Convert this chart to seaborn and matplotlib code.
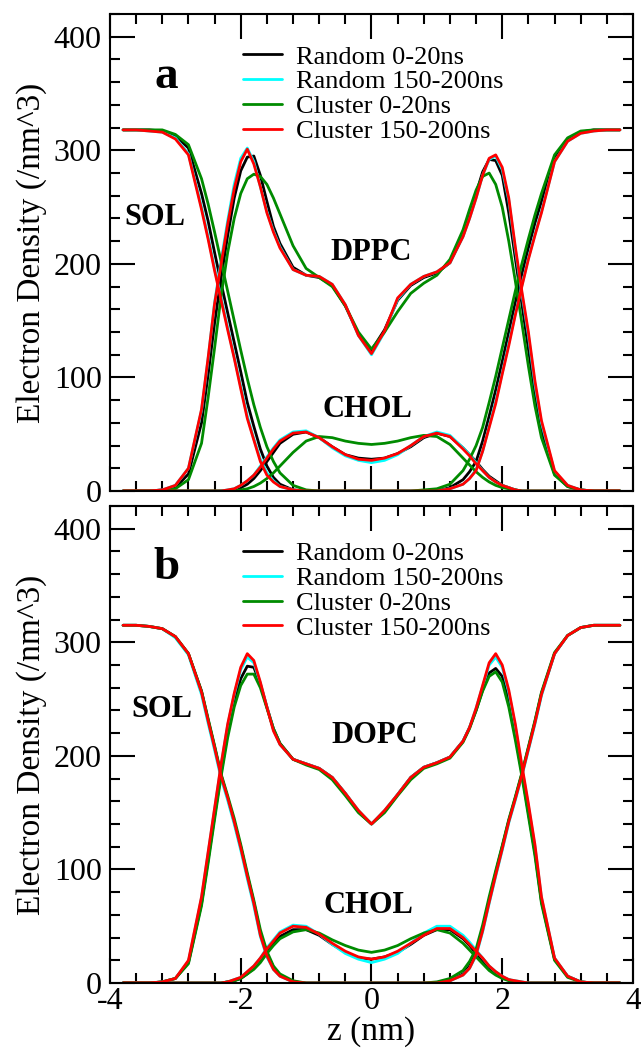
import numpy as np
import pandas as pd
import matplotlib
matplotlib.use("Agg")
import matplotlib.pyplot as plt
import seaborn as sns
from matplotlib.lines import Line2D
from matplotlib.ticker import MultipleLocator

# z grid (nm), finer where the profiles are steep
z = [-3.8, -3.6, -3.4, -3.2, -3.0, -2.8, -2.6, -2.5, -2.4, -2.3, -2.2, -2.1, -2.0,
     -1.9, -1.8, -1.7, -1.6, -1.5, -1.4, -1.2, -1.0, -0.8, -0.6, -0.4, -0.2, 0.0,
     0.2, 0.4, 0.6, 0.8, 1.0, 1.2, 1.4, 1.5, 1.6, 1.7, 1.8, 1.9, 2.0,
     2.1, 2.2, 2.3, 2.4, 2.5, 2.6, 2.8, 3.0, 3.2, 3.4, 3.6, 3.8]

runs = ['Random 0-20ns', 'Random 150-200ns', 'Cluster 0-20ns', 'Cluster 150-200ns']
run_colors = ['#000000', '#00ffff', '#008b00', '#ff0000']

# ---- panel a (DPPC) ----
a_sol_black = [318, 318, 318, 317, 313, 302, 262, 238, 210, 183, 157, 131, 105, 78, 57, 37, 22, 12, 6, 1, 0, 0, 0, 0, 0, 0,
               0, 0, 0, 0, 0, 3, 10, 17, 26, 44, 66, 89, 114, 140, 166, 191, 214, 236, 255, 294, 310, 316, 318, 318, 318]
a_sol_cyan = [318, 318, 317, 316, 311, 297, 250, 224, 196, 170, 144, 118, 92, 66, 46, 28, 16, 9, 4, 1, 0, 0, 0, 0, 0, 0,
              0, 0, 0, 0, 0, 2, 6, 11, 19, 35, 57, 79, 104, 130, 156, 181, 205, 226, 246, 290, 308, 315, 317, 318, 318]
a_sol_green = [318, 318, 318, 318, 314, 305, 275, 253, 228, 202, 176, 150, 124, 99, 76, 56, 39, 26, 16, 5, 1, 0, 0, 0, 0, 0,
               0, 0, 0, 1, 2, 6, 18, 28, 40, 56, 78, 101, 126, 151, 176, 200, 222, 243, 262, 296, 311, 317, 318, 318, 318]
a_sol_red = [318, 318, 317, 316, 310, 296, 248, 222, 194, 168, 142, 117, 90, 64, 45, 26, 14, 8, 4, 1, 0, 0, 0, 0, 0, 0,
             0, 0, 0, 0, 0, 2, 6, 11, 18, 35, 56, 77, 103, 128, 155, 180, 204, 225, 245, 290, 308, 315, 317, 318, 318]

a_lip_black = [0, 0, 0, 1, 3, 15, 60, 102, 148, 188, 225, 258, 282, 294, 295, 278, 255, 233, 218, 197, 190, 188, 181, 163, 138, 124,
               142, 168, 181, 188, 192, 201, 225, 242, 262, 281, 292, 291, 278, 245, 205, 165, 125, 86, 54, 15, 4, 1, 0, 0, 0]
a_lip_cyan = [0, 0, 0, 1, 5, 20, 71, 116, 166, 203, 238, 270, 293, 302, 290, 268, 246, 229, 215, 195, 190, 189, 182, 164, 137, 120,
              140, 169, 182, 189, 193, 201, 224, 240, 258, 278, 292, 295, 283, 256, 213, 174, 137, 94, 60, 17, 5, 1, 0, 0, 0]
a_lip_green = [0, 0, 0, 0, 2, 10, 42, 82, 126, 172, 210, 240, 262, 275, 279, 277, 270, 258, 244, 216, 196, 188, 180, 163, 140, 125,
               140, 158, 174, 183, 190, 204, 230, 248, 265, 277, 280, 270, 250, 220, 185, 148, 110, 75, 47, 14, 4, 1, 0, 0, 0]
a_lip_red = [0, 0, 0, 1, 5, 20, 72, 117, 165, 200, 235, 266, 290, 301, 288, 268, 245, 228, 214, 195, 190, 189, 182, 164, 137, 121,
             141, 170, 182, 189, 193, 201, 224, 240, 258, 278, 293, 296, 285, 258, 215, 176, 140, 97, 62, 18, 5, 1, 0, 0, 0]

a_chol_black = [0, 0, 0, 0, 0, 0, 0, 0, 0, 0, 0, 1, 3, 6, 11, 18, 26, 34, 42, 50, 52, 47, 39, 32, 29, 28,
                29, 33, 39, 47, 51, 48, 38, 32, 26, 19, 13, 9, 5, 3, 1, 0, 0, 0, 0, 0, 0, 0, 0, 0, 0]
a_chol_cyan = [0, 0, 0, 0, 0, 0, 0, 0, 0, 0, 1, 2, 5, 9, 14, 22, 30, 38, 45, 52, 53, 47, 38, 31, 27, 25,
               27, 32, 40, 48, 52, 49, 38, 32, 25, 18, 12, 8, 5, 3, 1, 0, 0, 0, 0, 0, 0, 0, 0, 0, 0]
a_chol_green = [0, 0, 0, 0, 0, 0, 0, 0, 0, 0, 0, 0, 1, 2, 4, 7, 11, 16, 22, 34, 44, 48, 47, 44, 42, 41,
                42, 44, 47, 49, 48, 41, 29, 23, 17, 12, 8, 5, 3, 2, 1, 0, 0, 0, 0, 0, 0, 0, 0, 0, 0]
a_chol_red = [0, 0, 0, 0, 0, 0, 0, 0, 0, 0, 1, 2, 5, 9, 14, 21, 29, 37, 44, 51, 52, 47, 39, 32, 28, 27,
              29, 33, 40, 48, 51, 48, 37, 31, 24, 18, 12, 8, 5, 3, 1, 0, 0, 0, 0, 0, 0, 0, 0, 0, 0]

# ---- panel b (DOPC) ----
b_sol_black = [315, 315, 314, 312, 305, 290, 257, 232, 208, 183, 163, 142, 120, 95, 71, 44, 26, 14, 7, 1, 0, 0, 0, 0, 0, 0,
               0, 0, 0, 0, 0, 2, 8, 15, 27, 48, 73, 97, 120, 143, 163, 184, 207, 230, 255, 290, 306, 313, 315, 315, 315]
b_sol_cyan = [315, 315, 314, 312, 304, 289, 254, 229, 205, 180, 161, 140, 117, 92, 68, 41, 23, 12, 6, 1, 0, 0, 0, 0, 0, 0,
              0, 0, 0, 0, 0, 2, 7, 13, 24, 45, 70, 94, 117, 141, 161, 182, 205, 228, 253, 290, 306, 313, 315, 315, 315]
b_sol_green = [315, 315, 314, 312, 305, 290, 257, 233, 209, 184, 165, 145, 122, 97, 73, 47, 28, 15, 8, 2, 0, 0, 0, 0, 0, 0,
               0, 0, 0, 0, 1, 4, 11, 19, 30, 51, 76, 99, 121, 144, 164, 185, 208, 231, 256, 291, 306, 313, 315, 315, 315]
b_sol_red = [315, 315, 314, 312, 305, 290, 256, 231, 207, 182, 163, 142, 119, 94, 70, 42, 24, 12, 6, 1, 0, 0, 0, 0, 0, 0,
             0, 0, 0, 0, 0, 2, 7, 13, 25, 46, 71, 95, 118, 142, 162, 183, 206, 229, 254, 290, 306, 313, 315, 315, 315]

b_lip_black = [0, 0, 0, 1, 4, 18, 70, 108, 147, 185, 220, 248, 268, 279, 278, 263, 243, 224, 211, 197, 193, 189, 181, 167, 151, 140,
               151, 166, 181, 190, 194, 199, 213, 225, 240, 258, 273, 277, 270, 248, 218, 185, 150, 115, 72, 21, 6, 1, 0, 0, 0]
b_lip_cyan = [0, 0, 0, 1, 4, 19, 75, 114, 153, 192, 227, 254, 276, 287, 282, 264, 243, 223, 210, 197, 193, 189, 181, 167, 152, 140,
              152, 166, 181, 190, 194, 199, 213, 225, 242, 261, 280, 287, 278, 256, 226, 190, 156, 120, 75, 22, 6, 1, 0, 0, 0]
b_lip_green = [0, 0, 0, 1, 4, 17, 68, 105, 144, 182, 216, 243, 262, 272, 272, 260, 242, 224, 211, 197, 192, 188, 179, 165, 150, 140,
               150, 165, 179, 189, 193, 198, 212, 224, 240, 257, 270, 274, 265, 243, 214, 182, 147, 112, 70, 20, 5, 1, 0, 0, 0]
b_lip_red = [0, 0, 0, 1, 4, 20, 76, 115, 154, 193, 228, 255, 278, 290, 284, 265, 243, 222, 210, 197, 193, 189, 181, 167, 152, 140,
             152, 166, 181, 190, 194, 199, 213, 225, 242, 262, 282, 290, 280, 258, 228, 192, 158, 122, 76, 22, 6, 1, 0, 0, 0]

b_chol_black = [0, 0, 0, 0, 0, 0, 0, 0, 0, 0, 1, 2, 4, 8, 13, 20, 28, 35, 41, 47, 47, 42, 34, 27, 22, 21,
                23, 27, 34, 42, 47, 47, 39, 33, 26, 20, 13, 9, 5, 3, 1, 0, 0, 0, 0, 0, 0, 0, 0, 0, 0]
b_chol_cyan = [0, 0, 0, 0, 0, 0, 0, 0, 0, 0, 1, 3, 5, 10, 15, 22, 31, 38, 45, 51, 50, 43, 34, 26, 21, 18,
               21, 26, 35, 44, 50, 50, 42, 36, 29, 22, 15, 10, 6, 3, 2, 1, 0, 0, 0, 0, 0, 0, 0, 0, 0]
b_chol_green = [0, 0, 0, 0, 0, 0, 0, 0, 0, 0, 1, 2, 4, 8, 12, 18, 26, 33, 39, 45, 47, 44, 38, 33, 29, 27,
                29, 33, 39, 44, 47, 44, 35, 29, 23, 17, 11, 7, 4, 2, 1, 0, 0, 0, 0, 0, 0, 0, 0, 0, 0]
b_chol_red = [0, 0, 0, 0, 0, 0, 0, 0, 0, 0, 1, 3, 5, 10, 15, 22, 30, 37, 44, 50, 49, 43, 35, 28, 23, 21,
              23, 28, 35, 42, 48, 48, 40, 34, 28, 22, 15, 10, 6, 3, 2, 1, 0, 0, 0, 0, 0, 0, 0, 0, 0]

panel_a = {
    'SOL': [a_sol_black, a_sol_cyan, a_sol_green, a_sol_red],
    'LIPID': [a_lip_black, a_lip_cyan, a_lip_green, a_lip_red],
    'CHOL': [a_chol_black, a_chol_cyan, a_chol_green, a_chol_red],
}
panel_b = {
    'SOL': [b_sol_black, b_sol_cyan, b_sol_green, b_sol_red],
    'LIPID': [b_lip_black, b_lip_cyan, b_lip_green, b_lip_red],
    'CHOL': [b_chol_black, b_chol_cyan, b_chol_green, b_chol_red],
}


def to_long(panel):
    frames = []
    for part, series in panel.items():
        for run, vals in zip(runs, series):
            frames.append(pd.DataFrame({'z': z, 'density': vals, 'run': run, 'part': part}))
    return pd.concat(frames, ignore_index=True)


sns.set_style("ticks")
plt.rcParams['font.family'] = ['Liberation Serif', 'DejaVu Serif']
plt.rcParams['axes.unicode_minus'] = False
plt.rcParams['axes.linewidth'] = 1.5
for key in ['text.color', 'axes.labelcolor', 'xtick.color', 'ytick.color', 'axes.edgecolor']:
    plt.rcParams[key] = 'black'

fig = plt.figure(figsize=(6.41, 10.49), dpi=100)
ax_a = fig.add_axes([0.1716, 0.5319, 0.8159, 0.4547])
ax_b = fig.add_axes([0.1716, 0.0629, 0.8159, 0.4547])

labels = {
    ax_a: ('a', 'DPPC', [(-3.14, 355), (-3.31, 234), (-0.01, 203), (-0.06, 65)], 0.935),
    ax_b: ('b', 'DOPC', [(-3.14, 356), (-3.20, 234), (0.05, 211), (-0.05, 62)], 0.925),
}

for ax, panel in [(ax_a, panel_a), (ax_b, panel_b)]:
    df = to_long(panel)
    sns.lineplot(data=df, x='z', y='density', hue='run', units='part', estimator=None,
                 hue_order=runs, palette=run_colors, lw=2, sort=False, legend=False, ax=ax)
    ax.set_xlim(-4, 4)
    ax.set_ylim(0, 420)
    ax.xaxis.set_major_locator(MultipleLocator(2))
    ax.xaxis.set_minor_locator(MultipleLocator(0.4))
    ax.yaxis.set_major_locator(MultipleLocator(100))
    ax.yaxis.set_minor_locator(MultipleLocator(20))
    ax.tick_params(which='both', direction='in', top=True, right=True, width=1.5, labelsize=23)
    ax.tick_params(which='major', length=18)
    ax.tick_params(which='minor', length=7)
    ax.tick_params(axis='y', pad=6)
    ax.tick_params(axis='x', pad=3)
    ax.set_ylabel('Electron Density (/nm^3)', fontsize=24)
    ax.yaxis.set_label_coords(-0.12, 0.5)
    ax.set_xlabel('')

    letter, lipid, pos, leg_y = labels[ax]
    ax.text(pos[0][0], pos[0][1], letter, fontsize=34, fontweight='bold', ha='center', va='baseline')
    ax.text(pos[1][0], pos[1][1], 'SOL', fontsize=22, fontweight='bold', ha='center', va='baseline')
    ax.text(pos[2][0], pos[2][1], lipid, fontsize=22, fontweight='bold', ha='center', va='baseline')
    ax.text(pos[3][0], pos[3][1], 'CHOL', fontsize=22, fontweight='bold', ha='center', va='baseline')

    handles = [Line2D([], [], color=c, lw=2) for c in run_colors]
    ax.legend(handles, runs, loc='upper left', bbox_to_anchor=(0.254, leg_y), frameon=False,
              fontsize=19, handlelength=1.5, handletextpad=0.5, labelspacing=0.05,
              borderpad=0, borderaxespad=0)

ax_a.tick_params(axis='x', labelbottom=False)
ax_b.set_xlabel('z (nm)', fontsize=24, labelpad=0)

fig.savefig('out.png', dpi=100)
